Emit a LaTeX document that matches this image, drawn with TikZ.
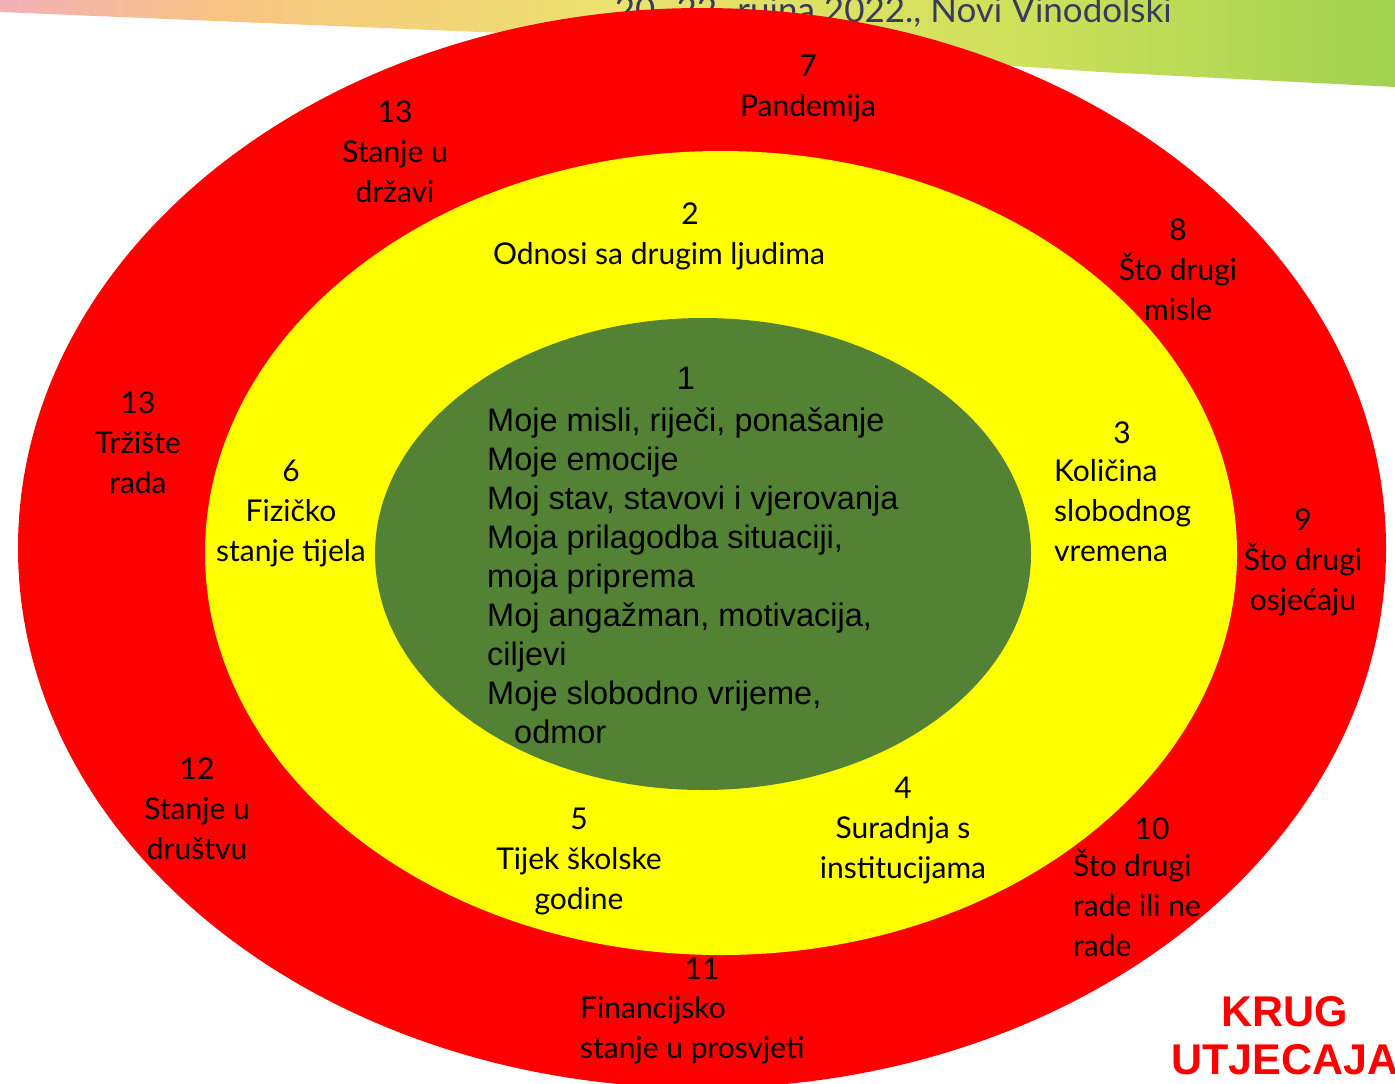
\documentclass[tikz,border=0pt]{standalone}
\usepackage{fontspec}
\setmainfont{Lato}
\newfontfamily\arialfont{Liberation Sans}
\usetikzlibrary{shapes.geometric,positioning}
\definecolor{ringred}{RGB}{255,0,0}
\definecolor{ringyellow}{RGB}{255,255,0}
\definecolor{ringgreen}{RGB}{84,130,53}
\definecolor{datetext}{RGB}{58,58,92}
\definecolor{bannerpink}{RGB}{242,176,184}
\definecolor{bannerorange}{RGB}{248,196,130}
\definecolor{banneryellow}{RGB}{236,226,110}
\definecolor{bannerlime}{RGB}{205,224,90}
\definecolor{bannergreen}{RGB}{160,210,80}
\pgfdeclarehorizontalshading{bannershade}{100bp}{color(0bp)=(bannerpink);
  color(25bp)=(bannerpink); color(33bp)=(bannerorange); color(47bp)=(banneryellow);
  color(62bp)=(bannerlime); color(75bp)=(bannergreen); color(100bp)=(bannergreen)}
\tikzset{ring/.style={ellipse, inner sep=0pt, draw=none}}
\tikzset{ring label/.style={anchor=base, align=center, inner sep=0pt,
    font=\fontsize{30}{40}\selectfont}}
\tikzset{list label/.style={ring label, anchor=base west, align=left}}
\tikzset{inner label/.style={anchor=base west, align=left, inner sep=0pt,
    font=\arialfont\fontsize{32.5}{39}\selectfont}}
\tikzset{title label/.style={anchor=base, align=center, inner sep=0pt, text=ringred,
    font=\arialfont\bfseries\fontsize{43}{48}\selectfont}}
\tikzset{date label/.style={anchor=base east, inner sep=0pt, text=datetext,
    font=\fontsize{35}{40}\selectfont}}
\tikzset{banner/.style={shading=bannershade}}

\begin{document}
\begin{tikzpicture}
      [x=1pt, y=-1pt]
      \useasboundingbox (0,0) rectangle (1395,1084);
      \clip (0,0) rectangle (1395,1084);

      \shade [banner] (0,0) -- (1395,0) -- (1395,87) -- (1100,72) -- (600,37) -- (0,12) -- cycle;
      \node [date label] (date) at (1172,22) {20.-22. rujna 2022., Novi Vinodolski};

      \node [ring, fill=ringred,    minimum width=1368, minimum height=1080] (outer)  at (702,548) {};
      \node [ring, fill=ringyellow, minimum width=1032, minimum height=804]  (middle) at (721,553) {};
      \node [ring, fill=ringgreen,  minimum width=656,  minimum height=472]  (inner)  at (703,554) {};

      \node [ring label] (n7)   at ( 808, 116) {7\\Pandemija};
      \node [ring label] (n13a) at ( 395, 202) {13\\Stanje u\\državi};
      \node [ring label] (n2)   at ( 690, 224) {2};
      \node [ring label] (t2)   at ( 659, 264) {Odnosi sa drugim ljudima};
      \node [ring label] (n8)   at (1178, 320) {8\\Što drugi\\misle};
      \node [ring label] (n13b) at ( 138, 493) {13\\Tržište\\rada};
      \node [ring label] (n6)   at ( 291, 561) {6\\Fizičko\\stanje tijela};
      \node [ring label] (n3)   at (1122, 443) {3};
      \node [list label] (t3)   at (1054, 561) {Količina\\slobodnog\\vremena};
      \node [ring label] (n9)   at (1303, 610) {9\\Što drugi\\osjećaju};
      \node [ring label] (n12)  at ( 197, 859) {12\\Stanje u\\društvu};
      \node [ring label] (n4)   at ( 903, 878) {4\\Suradnja s\\institucijama};
      \node [ring label] (n5)   at ( 579, 909) {5\\Tijek školske\\godine};
      \node [ring label] (n10)  at (1152, 839) {10};
      \node [list label] (t10)  at (1073, 956) {Što drugi\\rade ili ne\\rade};
      \node [ring label] (n11)  at ( 702, 979) {11};
      \node [list label] (t11)  at ( 580,1058) {Financijsko\\stanje u prosvjeti};

      \node [inner label, anchor=base] (n1) at ( 686, 389) {1};
      \node [inner label] (t1)   at ( 487, 743)
      {Moje misli, riječi, ponašanje\\Moje emocije\\Moj stav, stavovi i vjerovanja\\
        Moja prilagodba situaciji,\\moja priprema\\Moj angažman, motivacija,\\
        ciljevi\\Moje slobodno vrijeme,\\\hspace*{27pt}odmor};

      \node [title label] (title) at (1285,1074) {KRUG\\UTJECAJA};
    \end{tikzpicture}
\end{document}
